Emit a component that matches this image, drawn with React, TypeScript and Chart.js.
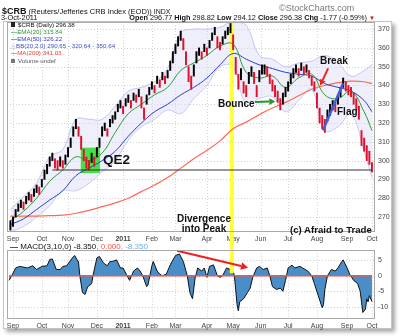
import React, { useEffect, useRef } from "react";
import { Chart, registerables } from "chart.js";

Chart.register(...registerables);

const FONT = '"Liberation Sans", Arial, Helvetica, sans-serif';

// ---------- price bars: one bar every 2 trading days (day 0 = 1 Sep 2010) ----------
const barFirstDay = -2;
const barStepDays = 2;
const closes = [
  266, 268, 272, 275, 277, 276, 279, 281, 280, 283,
  285, 284, 288, 292, 296, 300, 302, 299, 297, 300,
  298, 301, 305, 310, 316, 320, 316, 310, 303, 299,
  297, 302, 300, 305, 310, 316, 318, 315, 320, 322,
  324, 328, 330, 327, 331, 333, 330, 334, 333, 336,
  331, 325, 333, 337, 340, 338, 343, 341, 345, 343,
  346, 350, 355, 360, 364, 367, 362, 355, 346, 341,
  348, 355, 358, 356, 360, 358, 362, 366, 369, 363,
  361, 364, 367, 369, 371, 363, 350, 342, 346, 339,
  337, 344, 347, 344, 337, 345, 348, 349, 347, 344,
  340, 337, 334, 330, 333, 337, 339, 343, 346, 349,
  347, 350, 348, 349, 346, 342, 340, 332, 324, 320,
  318, 324, 327, 330, 328, 332, 337, 342, 340, 338,
  336, 333, 330, 326, 312, 308, 304, 301, 296,
];
const lows = [
  263, 265, 270, 273, 275, 274, 277, 279, 278, 281,
  283, 282, 286, 290, 293, 297, 300, 296, 295, 297,
  296, 298, 302, 307, 313, 317, 313, 306, 300, 296,
  295, 299, 297, 302, 307, 313, 316, 313, 318, 320,
  322, 326, 328, 325, 329, 331, 328, 332, 331, 334,
  328, 322, 330, 335, 338, 336, 341, 339, 343, 341,
  344, 348, 352, 357, 361, 364, 359, 351, 342, 338,
  345, 352, 356, 354, 358, 356, 360, 364, 367, 360,
  359, 362, 365, 367, 368, 359, 346, 338, 343, 336,
  334, 341, 345, 341, 334, 342, 346, 346, 345, 341,
  337, 334, 331, 327, 330, 334, 337, 341, 344, 347,
  345, 348, 346, 347, 344, 340, 337, 328, 320, 317,
  315, 321, 324, 327, 326, 330, 334, 339, 337, 335,
  334, 330, 327, 322, 308, 305, 300, 298, 294,
];
const highs = [
  268, 270, 274, 277, 279, 278, 281, 283, 282, 285,
  287, 286, 290, 295, 298, 302, 304, 301, 300, 302,
  300, 303, 307, 312, 318, 322, 318, 313, 306, 302,
  300, 304, 302, 307, 312, 318, 320, 317, 322, 324,
  326, 330, 332, 329, 333, 335, 332, 336, 335, 338,
  334, 328, 335, 339, 342, 340, 345, 343, 347, 345,
  348, 353, 358, 362, 366, 369, 365, 358, 350, 345,
  351, 358, 360, 358, 362, 360, 364, 368, 371, 366,
  363, 366, 369, 371, 373, 367, 355, 346, 349, 342,
  340, 347, 350, 347, 340, 348, 351, 351, 350, 346,
  343, 340, 337, 333, 336, 339, 342, 346, 349, 351,
  349, 352, 350, 351, 348, 345, 342, 336, 328, 324,
  322, 327, 330, 332, 331, 335, 339, 344, 342, 340,
  339, 336, 333, 329, 316, 312, 308, 305, 299,
];

// ---------- overlays (read every ~10 trading days) ----------
const overlayDays = [-2, 8, 18, 28, 38, 48, 58, 68, 78, 88, 98, 108, 118, 128, 138, 148, 158, 168, 178, 188, 198, 208, 218, 228, 238, 248, 258, 268, 274];
const ema20 = [268, 273, 280, 289, 295, 302, 300, 304, 315, 325, 330, 335, 339, 348, 352, 356, 361, 362, 347, 344, 345, 339, 344, 346, 335, 333, 337, 326, 316];
const ema50 = [266, 269, 274, 279, 284, 292, 296, 300, 305, 313, 320, 326, 330, 335, 339, 344, 351, 357, 354, 351, 349, 347, 346, 345, 341, 339, 337, 332, 326];
const ma200 = [270.4, 270.4, 270.5, 270.7, 271, 272, 273.5, 275.5, 277.5, 280, 283.5, 287, 291, 296, 301, 305.5, 310.5, 317, 320.5, 324.5, 328, 331, 334.5, 338, 340, 341.5, 342.3, 342, 341];
const bbUpper = [274, 281, 288, 302, 306, 322, 322, 322, 329, 337, 339, 342, 349, 368, 370, 370, 371, 374, 372, 356, 354, 350, 352, 353, 356, 352, 345, 348, 351];
const bbLower = [262, 265, 270, 276, 284, 284, 288, 294, 300, 311, 318, 322, 327, 325, 333, 340, 350, 350, 330, 333, 334, 326, 332, 338, 316, 318, 325, 305, 291];

// ---------- MACD(3,10,0) ----------
const macdDays = [-3, -1, 2, 5, 11, 15, 18, 22, 26, 28, 30, 33, 36, 38, 41, 45, 47, 50, 51, 53, 55, 57, 60, 61, 64, 66, 69, 72, 74, 76, 79, 82, 84, 87, 89, 92, 95, 97, 99, 102, 103, 106, 107, 110, 112, 114, 117, 120, 124, 127, 130, 133, 135, 137, 139, 141, 144, 146, 148, 150, 153, 156, 158, 160, 163, 166, 168, 169, 171, 172, 173, 176, 179, 181, 183, 186, 188, 191, 194, 196, 198, 201, 204, 206, 208, 210, 213, 215, 219, 221, 225, 228, 230, 233, 236, 237, 238, 240, 243, 246, 248, 251, 252, 255, 257, 260, 263, 265, 267, 269, 270, 271, 272, 274];
const macdValues = [-1.5, 0, 2.5, 3, 2.5, 3.2, 2, 3, 3.2, 5.2, 5.4, 2, 2, 3, 3.2, 5.6, 6.5, 4.4, 0, -5.4, -6, -3.5, -2.6, 0, 5.7, 6.2, 4.1, 3.2, 4.6, 4.6, 5.1, 2.5, 2.5, 0, -1.5, 1.5, 2.5, 1.5, 0, -3.5, -3, 3.2, 4.6, 1.5, 0.5, 0, 0.5, 3.5, 6.5, 7, 4.6, 0, -5.4, -7.4, -0.7, 2.5, 1.5, 2.5, -0.5, 3, 3.5, 0, -0.5, 0, 2.5, 2, 1.5, 0, -9.3, -11.3, -8.4, -7.4, -5.4, -4, -0.5, 2.5, 3, 2, 2.5, 0, -3.5, -4.4, -4, -5, -1.5, 2.5, 3.4, 2.5, 3, 2.5, 1.5, 0, -2.5, -6.4, -10.3, -9.3, -4.5, 0, 2, 1.5, 2.5, 4.6, 5.1, 2.5, 0.5, -1.5, -2.5, -5, -11.8, -10.8, -7.4, -8.4, -6.4, -8.35];
const macdSignal = 0;

// ---------- axes ----------
const monthTickDays = [0, 22, 42, 64, 84, 106, 124, 148, 168, 189, 210, 232, 255, 274];
const monthTickLabels = ["Sep", "Oct", "Nov", "Dec", "2011", "Feb", "Mar", "Apr", "May", "Jun", "Jul", "Aug", "Sep", "Oct"];
const priceTicks = [270, 280, 290, 300, 310, 320, 330, 340, 350, 360, 370];
const macdTicks = [-10, -5, 0, 5];

// ---------- annotations (data units) ----------
const peakDay = 167;
const supportLevel = 295;
const supportFrom = 30;
const supportTo = 274;
const qe2Box = { from: 51.7, to: 66.4, low: 293.4, high: 306.9 };
const flagStart = { d: 236.6, v: 316.1 };
const flagEnd = { d: 251.9, v: 341.1 };
const breakArrow = { d0: 240.5, v0: 349.1, d1: 234.4, v1: 340 };
const bounceArrow = { d0: 184.7, v0: 331.2, d1: 200.2, v1: 331.5 };
const divergenceArrow = { d0: 125.2, v0: 8.0, d1: 179.4, v1: 2.6 };

const X_MIN = -4.6;
const X_MAX = 276.3;

function drawArrow(ctx: CanvasRenderingContext2D, x0: number, y0: number, x1: number, y1: number, color: string, width: number, head: number) {
  ctx.save();
  ctx.strokeStyle = color;
  ctx.fillStyle = color;
  ctx.lineWidth = width;
  ctx.setLineDash([]);
  const ang = Math.atan2(y1 - y0, x1 - x0);
  const bx = x1 - head * Math.cos(ang);
  const by = y1 - head * Math.sin(ang);
  ctx.beginPath();
  ctx.moveTo(x0, y0);
  ctx.lineTo(bx, by);
  ctx.stroke();
  ctx.beginPath();
  ctx.moveTo(x1, y1);
  ctx.lineTo(bx + head * 0.55 * Math.sin(ang), by - head * 0.55 * Math.cos(ang));
  ctx.lineTo(bx - head * 0.55 * Math.sin(ang), by + head * 0.55 * Math.cos(ang));
  ctx.closePath();
  ctx.fill();
  ctx.restore();
}

function drawGrid(chart: any, yTicks: number[]) {
  const { ctx, chartArea: a, scales } = chart;
  ctx.save();
  ctx.strokeStyle = "#d2d2d2";
  ctx.lineWidth = 1;
  ctx.setLineDash([1, 2]);
  yTicks.forEach((v) => {
    const py = Math.round(scales.y.getPixelForValue(v)) + 0.5;
    ctx.beginPath();
    ctx.moveTo(a.left, py);
    ctx.lineTo(a.right, py);
    ctx.stroke();
  });
  monthTickDays.forEach((d) => {
    const px = Math.round(scales.x.getPixelForValue(d)) + 0.5;
    ctx.beginPath();
    ctx.moveTo(px, a.top);
    ctx.lineTo(px, a.bottom);
    ctx.stroke();
  });
  ctx.restore();
}

function drawBorder(chart: any) {
  const { ctx, chartArea: a } = chart;
  ctx.save();
  ctx.strokeStyle = "#a8a8a8";
  ctx.lineWidth = 1;
  ctx.strokeRect(Math.round(a.left) + 0.5, Math.round(a.top) + 0.5, Math.round(a.width) - 1, Math.round(a.height) - 1);
  ctx.restore();
}

function xScale(height: number) {
  return {
    type: "linear",
    min: X_MIN,
    max: X_MAX,
    offset: false,
    grid: { display: false, drawTicks: false, offset: false },
    border: { display: false },
    afterBuildTicks: (axis: any) => {
      axis.ticks = monthTickDays.map((v) => ({ value: v }));
    },
    afterFit: (axis: any) => {
      axis.height = height;
    },
    ticks: {
      autoSkip: false,
      maxRotation: 0,
      minRotation: 0,
      padding: 3,
      color: "#444",
      font: (c: any) => ({ family: FONT, size: 7, weight: monthTickLabels[c.index] === "2011" ? "bold" : "normal" }),
      callback: (_v: any, i: number) => monthTickLabels[i],
    },
  };
}

const TXT: React.CSSProperties = { position: "absolute", whiteSpace: "nowrap", lineHeight: 1 };

export default function App() {
  const mainRef = useRef<HTMLCanvasElement>(null);
  const macdRef = useRef<HTMLCanvasElement>(null);

  useEffect(() => {
    const pts = (vals: number[]) => overlayDays.map((d, i) => ({ x: d, y: vals[i] }));
    const barData = closes.map((_c, i) => ({ x: barFirstDay + i * barStepDays, y: [lows[i], highs[i]] }));
    const barColors = closes.map((c, i) => (i > 0 && c < closes[i - 1] ? "#e3102a" : "#000000"));

    const mainPlugin = {
      id: "mainDeco",
      beforeDatasetsDraw(chart: any) {
        drawGrid(chart, priceTicks);
      },
      beforeDatasetDraw(chart: any, args: any) {
        if (chart.data.datasets[args.index].label !== "MA(200)") return;
        const { ctx, chartArea: a, scales } = chart;
        const { x, y } = scales;
        ctx.save();
        ctx.fillStyle = "#48e048";
        const bx0 = x.getPixelForValue(qe2Box.from);
        const bx1 = x.getPixelForValue(qe2Box.to);
        const by0 = y.getPixelForValue(qe2Box.high);
        const by1 = y.getPixelForValue(qe2Box.low);
        ctx.fillRect(bx0, by0, bx1 - bx0, by1 - by0);
        ctx.strokeStyle = "#ffff3a";
        ctx.lineWidth = 4;
        const px = x.getPixelForValue(peakDay);
        ctx.beginPath();
        ctx.moveTo(px, a.top);
        ctx.lineTo(px, chart.height);
        ctx.stroke();
        ctx.restore();
      },
      afterDatasetsDraw(chart: any) {
        const { ctx, scales } = chart;
        const { x, y } = scales;
        drawArrow(ctx, x.getPixelForValue(breakArrow.d0), y.getPixelForValue(breakArrow.v0), x.getPixelForValue(breakArrow.d1), y.getPixelForValue(breakArrow.v1), "#f02020", 2, 6);
        drawArrow(ctx, x.getPixelForValue(bounceArrow.d0), y.getPixelForValue(bounceArrow.v0), x.getPixelForValue(bounceArrow.d1), y.getPixelForValue(bounceArrow.v1), "#1f9a2a", 2, 6);
        drawBorder(chart);
      },
    };

    const main = new Chart(mainRef.current as HTMLCanvasElement, {
      type: "line",
      data: {
        datasets: [
          {
            type: "line",
            label: "Flag",
            data: [{ x: flagStart.d, y: flagStart.v }, { x: flagEnd.d, y: flagEnd.v }],
            borderColor: "#3a5fd8",
            borderWidth: 2.5,
            pointRadius: 0,
            fill: false,
            order: 0,
          },
          {
            type: "line",
            label: "Support",
            data: [{ x: supportFrom, y: supportLevel }, { x: supportTo, y: supportLevel }],
            borderColor: "#333333",
            borderWidth: 1,
            pointRadius: 0,
            fill: false,
            order: 1,
          },
          {
            type: "bar",
            label: "$CRB",
            data: barData,
            backgroundColor: barColors,
            barThickness: 1.3,
            grouped: false,
            order: 2,
          },
          {
            type: "line",
            label: "EMA(20)",
            data: pts(ema20),
            borderColor: "#2e9a35",
            borderWidth: 1,
            pointRadius: 0,
            tension: 0.4,
            fill: false,
            order: 3,
          },
          {
            type: "line",
            label: "EMA(50)",
            data: pts(ema50),
            borderColor: "#2a3fc8",
            borderWidth: 1,
            pointRadius: 0,
            tension: 0.4,
            fill: false,
            order: 4,
          },
          {
            type: "line",
            label: "MA(200)",
            data: pts(ma200),
            borderColor: "#ff6a55",
            borderWidth: 1.2,
            pointRadius: 0,
            tension: 0.4,
            fill: false,
            order: 5,
          },
          {
            type: "line",
            label: "BB upper",
            data: pts(bbUpper),
            borderColor: "rgba(185,190,238,0.85)",
            backgroundColor: "rgba(212,214,246,0.4)",
            borderWidth: 1,
            pointRadius: 0,
            tension: 0.4,
            fill: "+1",
            order: 6,
          },
          {
            type: "line",
            label: "BB lower",
            data: pts(bbLower),
            borderColor: "rgba(185,190,238,0.85)",
            borderWidth: 1,
            pointRadius: 0,
            tension: 0.4,
            fill: false,
            order: 7,
          },
        ],
      } as any,
      options: {
        responsive: false,
        animation: false,
        events: [],
        layout: { padding: { left: 7, top: 22, right: 0, bottom: 0 } },
        plugins: { legend: { display: false }, tooltip: { enabled: false } },
        scales: {
          x: xScale(11) as any,
          y: {
            type: "linear",
            position: "right",
            min: 262,
            max: 373.8,
            grid: { display: false, drawTicks: false },
            border: { display: false },
            afterBuildTicks: (axis: any) => {
              axis.ticks = priceTicks.map((v) => ({ value: v }));
            },
            afterFit: (axis: any) => {
              axis.width = 25;
            },
            ticks: { padding: 3, color: "#444", font: { family: FONT, size: 7 } },
          },
        },
      },
      plugins: [mainPlugin],
    });

    const macdPlugin = {
      id: "macdDeco",
      beforeDatasetsDraw(chart: any) {
        drawGrid(chart, macdTicks);
      },
      afterDatasetsDraw(chart: any) {
        const { ctx, scales } = chart;
        const { x, y } = scales;
        ctx.save();
        ctx.strokeStyle = "#ffff3a";
        ctx.lineWidth = 4;
        const px = x.getPixelForValue(peakDay);
        ctx.beginPath();
        ctx.moveTo(px, 0);
        ctx.lineTo(px, y.getPixelForValue(0.8));
        ctx.stroke();
        ctx.restore();
        drawArrow(ctx, x.getPixelForValue(divergenceArrow.d0), y.getPixelForValue(divergenceArrow.v0), x.getPixelForValue(divergenceArrow.d1), y.getPixelForValue(divergenceArrow.v1), "#f02020", 2, 7);
        drawBorder(chart);
      },
    };

    const macd = new Chart(macdRef.current as HTMLCanvasElement, {
      type: "line",
      data: {
        datasets: [
          {
            label: "Signal",
            data: [{ x: macdDays[0], y: macdSignal }, { x: macdDays[macdDays.length - 1], y: macdSignal }],
            borderColor: "#ff5040",
            borderWidth: 1.5,
            pointRadius: 0,
            fill: false,
            order: 0,
          },
          {
            label: "MACD",
            data: macdDays.map((d, i) => ({ x: d, y: macdValues[i] })),
            borderColor: "#111111",
            backgroundColor: "#4a8ec9",
            borderWidth: 1,
            pointRadius: 0,
            tension: 0,
            fill: "origin",
            order: 1,
          },
        ],
      } as any,
      options: {
        responsive: false,
        animation: false,
        events: [],
        layout: { padding: { left: 7, top: 1, right: 0, bottom: 6 } },
        plugins: { legend: { display: false }, tooltip: { enabled: false } },
        scales: {
          x: xScale(11) as any,
          y: {
            type: "linear",
            position: "right",
            min: -13.9,
            max: 8.2,
            grid: { display: false, drawTicks: false },
            border: { display: false },
            afterBuildTicks: (axis: any) => {
              axis.ticks = macdTicks.map((v) => ({ value: v }));
            },
            afterFit: (axis: any) => {
              axis.width = 25;
            },
            ticks: { padding: 3, color: "#444", font: { family: FONT, size: 7 } },
          },
        },
      },
      plugins: [macdPlugin],
    });

    return () => {
      main.destroy();
      macd.destroy();
    };
  }, []);

  const bold: React.CSSProperties = { fontWeight: "bold" };

  return (
    <div style={{ position: "fixed", left: 0, top: 0, width: 400, height: 336, background: "#fff", overflow: "hidden", fontFamily: FONT, color: "#111" }}>
      <div style={{ position: "absolute", left: 3, top: 21, width: 387, height: 306, border: "1px solid #c4c4c4", boxShadow: "3px 3px 4px rgba(0,0,0,0.35)", background: "#fff" }} />
      <canvas ref={mainRef} width={400} height={243} style={{ position: "absolute", left: 0, top: 0 }} />
      <canvas ref={macdRef} width={400} height={93} style={{ position: "absolute", left: 0, top: 243 }} />

      {/* header */}
      <div style={{ ...TXT, left: 2, top: 1 }}>
        <span style={{ fontSize: 9, fontWeight: "bold" }}>$CRB</span>
        <span style={{ fontSize: 7.5 }}> (Reuters/Jefferies CRB Index (EOD))</span>
        <span style={{ fontSize: 7 }}> INDX</span>
      </div>
      <div style={{ ...TXT, left: 279, top: 4, fontSize: 9, color: "#777" }}>©StockCharts.com</div>
      <div style={{ ...TXT, left: 1, top: 13.5, fontSize: 7.4 }}>3-Oct-2011</div>
      <div style={{ ...TXT, right: 33, top: 13.5, fontSize: 7.3 }}>
        <span style={bold}>Open</span> 296.77 <span style={bold}>High</span> 298.82 <span style={bold}>Low</span> 294.12{" "}
        <span style={bold}>Close</span> 296.38 <span style={bold}>Chg</span> -1.77 (-0.59%)
      </div>
      <div style={{ ...TXT, left: 369, top: 14.5, fontSize: 6, color: "#e01010" }}>▼</div>

      {/* legend */}
      <div style={{ ...TXT, left: 11, top: 21.5, fontSize: 6.2 }}>
        <span style={{ display: "inline-block", width: 4, height: 5, background: "#222", marginRight: 3 }} />$CRB (Daily) 296.38
      </div>
      <div style={{ ...TXT, left: 11, top: 29, fontSize: 6.2, color: "#2e9a35" }}>
        <span style={{ fontWeight: "bold" }}>—</span>EMA(20) 315.84
      </div>
      <div style={{ ...TXT, left: 11, top: 36, fontSize: 6.2, color: "#2a3fc8" }}>
        <span style={{ fontWeight: "bold" }}>—</span>EMA(50) 326.22
      </div>
      <div style={{ ...TXT, left: 11, top: 43, fontSize: 6.2, color: "#4050c0" }}>
        <span style={{ color: "#9aa0e0" }}>△</span>BB(20,2.0) 290.65 - 320.64 - 350.64
      </div>
      <div style={{ ...TXT, left: 11, top: 50, fontSize: 6.2, color: "#f03a30" }}>
        <span style={{ fontWeight: "bold" }}>—</span>MA(200) 341.03
      </div>
      <div style={{ ...TXT, left: 11, top: 57.5, fontSize: 6.2, color: "#555" }}>
        <span style={{ display: "inline-block", width: 4, height: 4, background: "#777", marginRight: 3 }} />Volume undef
      </div>

      {/* annotations */}
      <div style={{ ...TXT, left: 103, top: 153, fontSize: 13.5, ...bold }}>QE2</div>
      <div style={{ ...TXT, left: 218, top: 99, fontSize: 10, ...bold }}>Bounce</div>
      <div style={{ ...TXT, left: 320, top: 55.5, fontSize: 10, ...bold }}>Break</div>
      <div style={{ ...TXT, left: 337, top: 107, fontSize: 10, ...bold }}>Flag</div>
      <div style={{ position: "absolute", left: 163, width: 82, top: 214, fontSize: 10, lineHeight: "10px", textAlign: "center", ...bold }}>
        Divergence
        <br />
        into Peak
      </div>
      <div style={{ ...TXT, left: 290, top: 225, fontSize: 9.6, ...bold }}>(c) Afraid to Trade</div>

      {/* MACD legend */}
      <div style={{ ...TXT, left: 10, top: 243, fontSize: 8 }}>
        <span style={{ fontWeight: "bold" }}>—</span> MACD(3,10,0) -8.350<span style={{ color: "#ff5040" }}>, 0.000</span>
        <span style={{ color: "#6aaee8" }}>, -8.350</span>
      </div>
    </div>
  );
}
